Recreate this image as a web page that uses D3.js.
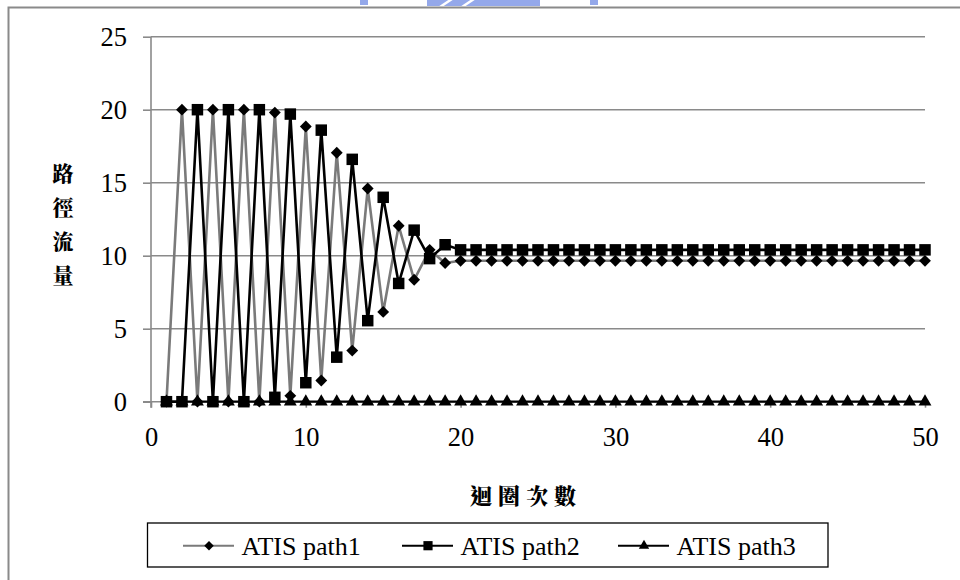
<!DOCTYPE html>
<html>
<head>
<meta charset="utf-8">
<script src="https://cdn.jsdelivr.net/npm/d3@7/dist/d3.min.js"></script>
</head>
<body style="margin:0">
<svg id="flows" width="960" height="580"></svg>
<script>
// Iteration number (x) and path flows for the three ATIS paths
const iterations = [1,2,3,4,5,6,7,8,9,10,11,12,13,14,15,16,17,18,19,20,
  21,22,23,24,25,26,27,28,29,30,31,32,33,34,35,36,37,38,39,40,
  41,42,43,44,45,46,47,48,49,50];

const path1 = [0,20,0,20,0,20,0,19.8,0.4,18.85,1.45,17.05,3.5,14.6,6.15,12.05,8.35,10.4,9.5,
  9.65,9.65,9.65,9.65,9.65,9.65,9.65,9.65,9.65,9.65,9.65,9.65,9.65,9.65,9.65,9.65,
  9.65,9.65,9.65,9.65,9.65,9.65,9.65,9.65,9.65,9.65,9.65,9.65,9.65,9.65,9.65];

const path2 = [0,0,20,0,20,0,20,0.3,19.7,1.3,18.6,3.05,16.6,5.55,14.0,8.1,11.75,9.8,10.75,
  10.4,10.4,10.4,10.4,10.4,10.4,10.4,10.4,10.4,10.4,10.4,10.4,10.4,10.4,10.4,10.4,
  10.4,10.4,10.4,10.4,10.4,10.4,10.4,10.4,10.4,10.4,10.4,10.4,10.4,10.4,10.4];

const path3 = [0,0,0,0,0,0,0,0,0,0,0,0,0,0,0,0,0,0,0,0,
  0,0,0,0,0,0,0,0,0,0,0,0,0,0,0,0,0,0,0,0,
  0,0,0,0,0,0,0,0,0,0];

const seriesNames = ["ATIS path1", "ATIS path2", "ATIS path3"];
const xTicks = [0, 10, 20, 30, 40, 50];
const yTicks = [0, 5, 10, 15, 20, 25];
const yTitle = ["路", "徑", "流", "量"];
const xTitle = "迴圈次數";

const svg = d3.select("#flows").style("font-family", '"Liberation Serif"');
const latinFont = '"Liberation Serif"';
const cjkFont = '"Noto Serif CJK TC"';
const gridColor = "#8a8a8a";

const x = d3.scaleLinear().domain([0, 50]).range([151, 925]);
const y = d3.scaleLinear().domain([0, 25]).range([401.7, 36.7]);

// faint emblem cut off at the top edge
const emblem = svg.append("g").attr("fill", "#94a8ea");
emblem.append("rect").attr("x", 427).attr("y", 0).attr("width", 113).attr("height", 6);
emblem.append("rect").attr("x", 360).attr("y", 0).attr("width", 8).attr("height", 5);
emblem.append("rect").attr("x", 590).attr("y", 0).attr("width", 8).attr("height", 5);
svg.append("g").attr("stroke", "#fff").attr("stroke-width", 2.5)
  .selectAll("line").data([[440, 452], [462, 474]]).join("line")
  .attr("x1", d => d[0]).attr("y1", 7).attr("x2", d => d[1]).attr("y2", -1);

// outer chart frame
svg.append("path")
  .attr("d", "M8.5,580 L8.5,7.5 L960,7.5")
  .attr("fill", "none").attr("stroke", gridColor).attr("stroke-width", 2);

// horizontal gridlines
svg.append("g").selectAll("line").data(yTicks.filter(d => d > 0)).join("line")
  .attr("x1", x(0)).attr("x2", x(50))
  .attr("y1", d => y(d)).attr("y2", d => y(d))
  .attr("stroke", gridColor).attr("stroke-width", 1.6);

// y axis
const yAxis = svg.append("g").attr("transform", `translate(${x(0)},0)`)
  .call(d3.axisLeft(y).tickValues(yTicks).tickSize(8).tickPadding(16).tickFormat(d3.format("d")))
  .attr("font-family", null).attr("font-size", null);
yAxis.select(".domain").attr("stroke", gridColor).attr("stroke-width", 1.6)
  .attr("d", `M0,${y(25)}V${y(0) + 6}`);
yAxis.selectAll(".tick line").attr("stroke", gridColor).attr("stroke-width", 1.6);
yAxis.selectAll(".tick text")
  .style("font-family", latinFont).style("font-size", "26.5px").attr("fill", "#000")
  .attr("dy", "0.34em");

// x axis
const xAxis = svg.append("g").attr("transform", `translate(0,${y(0)})`)
  .call(d3.axisBottom(x).tickValues(xTicks).tickSize(6).tickPadding(24).tickFormat(d3.format("d")))
  .attr("font-family", null).attr("font-size", null);
xAxis.select(".domain").attr("stroke", gridColor).attr("stroke-width", 1.6)
  .attr("d", `M${x(0) - 8},0H${x(50)}`);
xAxis.selectAll(".tick line").attr("stroke", gridColor).attr("stroke-width", 1.6);
xAxis.selectAll(".tick text")
  .style("font-family", latinFont).style("font-size", "26.5px").attr("fill", "#000")
  .attr("dy", "0.55em");

// marker shapes
const diamond = d3.symbol().type(d3.symbolSquare).size(70)();
const square = d3.symbol().type(d3.symbolSquare).size(132)();
const triangle = d3.symbol().type(d3.symbolTriangle).size(72)();

const series = [
  { name: seriesNames[0], values: path1, color: "#7a7a7a", width: 2.6, marker: diamond, rotate: 45 },
  { name: seriesNames[1], values: path2, color: "#000", width: 2.6, marker: square, rotate: 0 },
  { name: seriesNames[2], values: path3, color: "#000", width: 2.2, marker: triangle, rotate: 0 }
];

const line = d3.line().x(d => x(d[0])).y(d => y(d[1]));

series.forEach(s => {
  const pts = iterations.map((it, i) => [it, s.values[i]]);
  const g = svg.append("g");
  g.append("path").datum(pts)
    .attr("d", line).attr("fill", "none")
    .attr("stroke", s.color).attr("stroke-width", s.width)
    .attr("stroke-linejoin", "round");
  g.selectAll("path.m").data(pts).join("path").attr("class", "m")
    .attr("d", s.marker).attr("fill", "#000")
    .attr("transform", d => `translate(${x(d[0])},${y(d[1])}) rotate(${s.rotate})`);
});

// axis titles
svg.append("g").selectAll("text").data(yTitle).join("text")
  .attr("x", 63).attr("y", (d, i) => 180.5 + i * 34.2)
  .attr("text-anchor", "middle")
  .style("font-family", cjkFont).style("font-weight", "900").style("font-size", "21px")
  .attr("fill", "#000").text(d => d);

svg.append("text")
  .attr("x", 470).attr("y", 504)
  .style("font-family", cjkFont).style("font-weight", "900").style("font-size", "22px")
  .style("letter-spacing", "6px")
  .attr("fill", "#000").text(xTitle);

// legend
const legend = svg.append("g");
legend.append("rect")
  .attr("x", 147.5).attr("y", 523).attr("width", 680.5).attr("height", 44)
  .attr("fill", "#fff").attr("stroke", "#000").attr("stroke-width", 1.3);

const legendX = [183, 402, 618];
series.forEach((s, i) => {
  const lx = legendX[i];
  const ly = 545.7;
  legend.append("line")
    .attr("x1", lx).attr("x2", lx + 51).attr("y1", ly).attr("y2", ly)
    .attr("stroke", s.color).attr("stroke-width", 2);
  legend.append("path").attr("d", s.marker).attr("fill", "#000")
    .attr("transform", `translate(${lx + 26},${ly}) rotate(${s.rotate}) scale(0.8)`);
  legend.append("text")
    .attr("x", lx + 58.5).attr("y", 555)
    .style("font-family", latinFont).style("font-size", "26px").attr("fill", "#000")
    .text(s.name);
});
</script>
</body>
</html>
